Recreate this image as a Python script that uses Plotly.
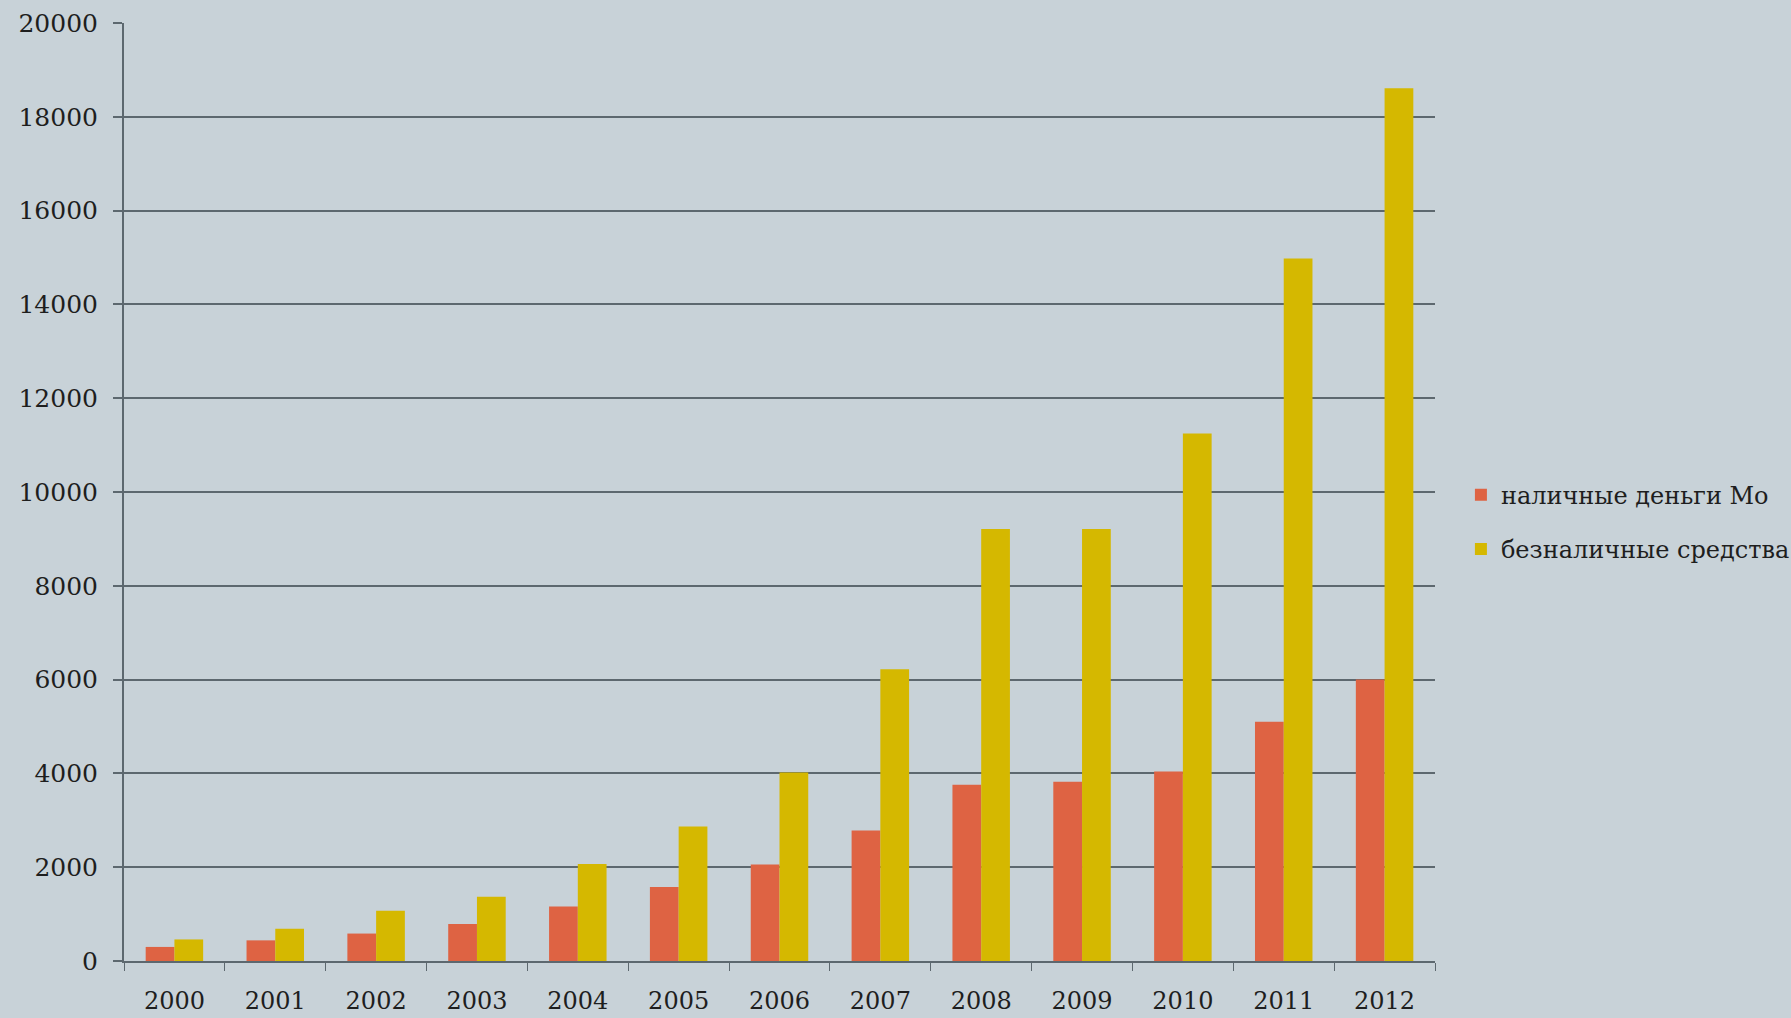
import plotly.graph_objects as go

years = ["2000", "2001", "2002", "2003", "2004", "2005", "2006",
         "2007", "2008", "2009", "2010", "2011", "2012"]
cash_m0 = [300, 440, 585, 790, 1160, 1580, 2060, 2780, 3760, 3820, 4040, 5100, 6000]
noncash = [460, 690, 1070, 1370, 2070, 2870, 4020, 6220, 9210, 9210, 11250, 14980, 18610]

series_names = ["наличные деньги Мо", "безналичные средства"]
colors = ["#de6343", "#d5b800"]

bg = "#c8d2d8"
grid = "#5d686f"
text_color = "#1e1e1e"
font_family = "DejaVu Serif"

fig = go.Figure()
fig.add_trace(go.Bar(x=years, y=cash_m0, name=series_names[0],
                     marker=dict(color=colors[0], line=dict(width=0)),
                     legendgroup="a"))
fig.add_trace(go.Bar(x=years, y=noncash, name=series_names[1],
                     marker=dict(color=colors[1], line=dict(width=0)),
                     legendgroup="b"))

fig.update_layout(
    width=1791, height=1018,
    paper_bgcolor=bg, plot_bgcolor=bg,
    margin=dict(l=124, r=356, t=23, b=57, autoexpand=False),
    barmode="group", bargap=0.43, bargroupgap=0,
    font=dict(family=font_family, color=text_color, size=22),
    showlegend=True,
    legend=dict(xref="container", yref="container",
                x=0.8157, xanchor="left", y=0.487, yanchor="middle",
                font=dict(family=font_family, size=24, color=text_color),
                tracegroupgap=20, bgcolor="rgba(0,0,0,0)",
                itemwidth=30),
)

fig.update_xaxes(
    type="category", showline=True, linecolor=grid, linewidth=2,
    ticks="outside", tickson="boundaries", ticklen=8, tickcolor=grid, tickwidth=1,
    tickfont=dict(family=font_family, size=24, color=text_color),
    ticklabelstandoff=17, showgrid=False, automargin=False,
)
fig.update_yaxes(
    range=[0, 20000], dtick=2000, tickformat="d",
    showgrid=True, gridcolor=grid, gridwidth=2,
    showline=True, linecolor=grid, linewidth=2,
    ticks="outside", ticklen=9, tickcolor=grid, tickwidth=2,
    tickfont=dict(family=font_family, size=25, color=text_color),
    ticklabelstandoff=10, zeroline=False, automargin=False,
)

fig.write_html(
    "out.html",
    config={"displayModeBar": False},
    post_script=(
        "document.body.style.margin='0';"
        "document.body.style.overflow='hidden';"
        "document.body.style.background='" + bg + "';"
    ),
)
